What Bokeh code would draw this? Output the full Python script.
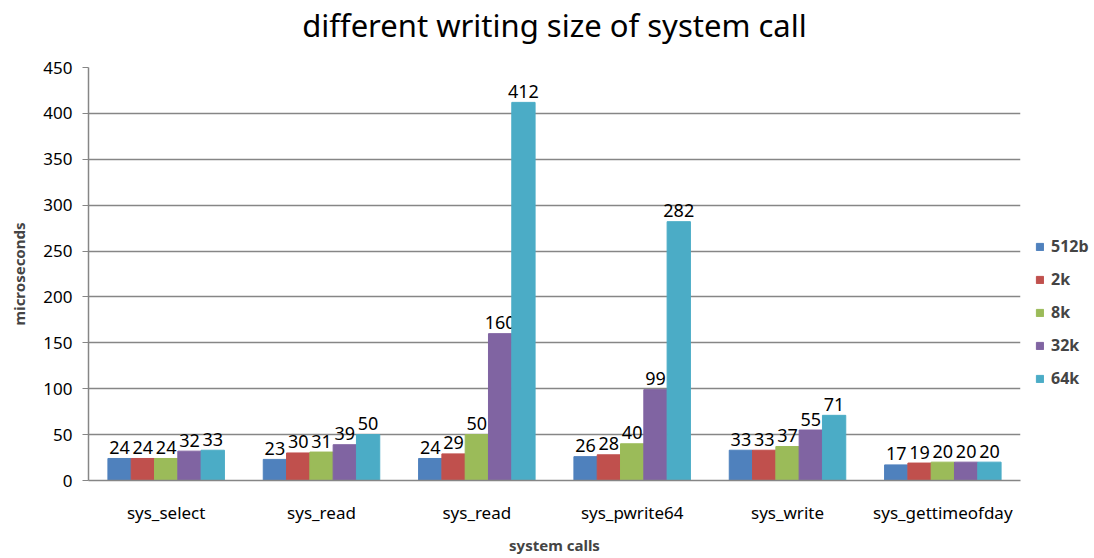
from bokeh.plotting import figure
from bokeh.models import ColumnDataSource, Legend, LegendItem, FixedTicker, Range1d, Title
from bokeh.core.properties import value
from bokeh.embed import file_html
from bokeh.resources import INLINE

categories = ["sys_select", "sys_read", "sys_read", "sys_pwrite64", "sys_write", "sys_gettimeofday"]
series = ["512b", "2k", "8k", "32k", "64k"]
v_512b = [24, 23, 24, 26, 33, 17]
v_2k = [24, 30, 29, 28, 33, 19]
v_8k = [24, 31, 50, 40, 37, 20]
v_32k = [32, 39, 160, 99, 55, 20]
v_64k = [33, 50, 412, 282, 71, 20]
values = [v_512b, v_2k, v_8k, v_32k, v_64k]
colors = ["#4F81BD", "#C0504D", "#9BBB59", "#8064A2", "#4BACC6"]
y_ticks = [0, 50, 100, 150, 200, 250, 300, 350, 400, 450]
title_text = "different writing size of system call"

FONT = "Noto Sans"
GRAY = "#868686"

p = figure(frame_width=932, frame_height=413, output_backend="svg", toolbar_location=None,
           x_range=Range1d(-0.5, 5.5), y_range=Range1d(0, 450),
           min_border_left=88, min_border_right=74, min_border_top=67, min_border_bottom=78)
p.outline_line_color = None
p.background_fill_color = "white"

p.title.text = title_text
p.title.text_font = FONT
p.title.text_font_size = "31px"
p.title.text_font_style = "normal"
p.title.align = "center"
p.title.vertical_align = "top"
p.title.text_color = "#000000"
p.title.standoff = 6

# small spacer between the title and the plot frame
spacer = Title(text=" ", text_font=FONT, text_font_size="8px", standoff=4)
p.add_layout(spacer, "above")

bw = 0.15
items = []
for i, (name, vals, col) in enumerate(zip(series, values, colors)):
    xs = [k + (i - 2) * bw for k in range(len(categories))]
    src = ColumnDataSource(dict(x=xs, top=vals, lab=[str(v) for v in vals]))
    r = p.vbar(x="x", top="top", width=bw, bottom=0, source=src, fill_color=col, line_color=col)
    p.text(x="x", y="top", text="lab", source=src, text_align="center", text_baseline="alphabetic",
           y_offset=-11, text_font=value(FONT), text_font_size="18px", text_color="#000000")
    items.append(LegendItem(label=name, renderers=[r]))

legend = Legend(items=items, location=(15, 91), border_line_color=None,
                label_text_font=FONT, label_text_font_size="16px", label_text_font_style="bold",
                label_height=22, glyph_width=9, glyph_height=9, spacing=11, label_standoff=7,
                margin=0, padding=0, background_fill_alpha=0)
p.add_layout(legend, "right")

p.xgrid.visible = False
p.ygrid.grid_line_color = GRAY
p.ygrid.grid_line_width = 1.5
p.ygrid.ticker = FixedTicker(ticks=y_ticks)

p.yaxis.ticker = FixedTicker(ticks=y_ticks)
p.yaxis.axis_line_color = GRAY
p.yaxis.axis_line_width = 1.5
p.yaxis.major_tick_line_color = GRAY
p.yaxis.major_tick_out = 6
p.yaxis.major_tick_in = 0
p.yaxis.minor_tick_line_color = None
p.yaxis.major_label_text_font = FONT
p.yaxis.major_label_text_font_size = "17px"
p.yaxis.major_label_text_color = "#000000"
p.yaxis.major_label_standoff = 10
p.yaxis.axis_label = "microseconds"
p.yaxis.axis_label_text_font = FONT
p.yaxis.axis_label_text_font_size = "15px"
p.yaxis.axis_label_text_font_style = "bold"
p.yaxis.axis_label_standoff = 11

p.xaxis.ticker = FixedTicker(ticks=list(range(len(categories))))
p.xaxis.major_label_overrides = {i: c for i, c in enumerate(categories)}
p.xaxis.axis_line_color = GRAY
p.xaxis.axis_line_width = 1.5
p.xaxis.major_tick_line_color = None
p.xaxis.minor_tick_line_color = None
p.xaxis.major_label_text_font = FONT
p.xaxis.major_label_text_font_size = "17px"
p.xaxis.major_label_text_color = "#000000"
p.xaxis.major_label_standoff = 14
p.xaxis.axis_label = "system calls"
p.xaxis.axis_label_text_font = FONT
p.xaxis.axis_label_text_font_size = "15px"
p.xaxis.axis_label_text_font_style = "bold"
p.xaxis.axis_label_standoff = 8

open("out.html", "w").write(file_html(p, INLINE))
